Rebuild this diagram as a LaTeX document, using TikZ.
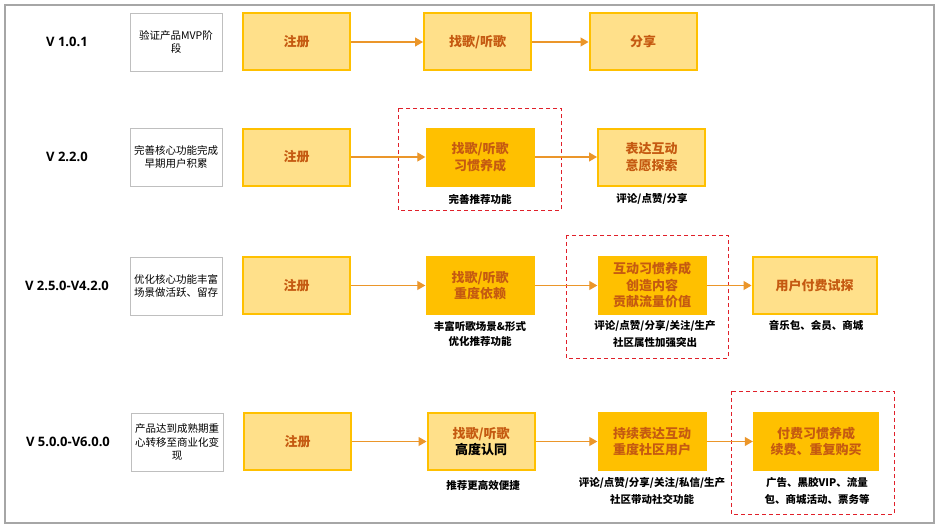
\documentclass[tikz,border=0pt]{standalone}
\usepackage{fontspec}
\setmainfont{Noto Sans CJK SC}
\newfontfamily\verfont{Open Sans}
\usetikzlibrary{arrows.meta}
\definecolor{lightfill}{HTML}{FFE08A}
\definecolor{darkfill}{HTML}{FFC000}
\definecolor{boxborder}{HTML}{FFC000}
\definecolor{labtext}{HTML}{C55A11}
\definecolor{arrcol}{HTML}{EB962A}
\definecolor{descborder}{HTML}{BFBFBF}
\definecolor{framecol}{HTML}{A6A6A6}
\definecolor{dashred}{HTML}{E0202A}
\tikzset{
  lbox/.style={draw=boxborder, line width=2pt, fill=lightfill, minimum width=107pt, minimum height=57pt, inner sep=0pt, align=center, text=labtext, font=\bfseries\fontsize{13}{16.5}\selectfont},
  dbox/.style={fill=darkfill, minimum width=109pt, minimum height=59pt, inner sep=0pt, align=center, text=labtext, font=\bfseries\fontsize{13}{16.5}\selectfont},
  descbox/.style={draw=descborder, line width=0.9pt, fill=white, minimum width=92pt, minimum height=58pt, inner sep=0pt, align=center, font=\fontsize{10.5}{13.5}\selectfont},
  verlab/.style={font=\verfont\bfseries\fontsize{13}{16}\selectfont, inner sep=0pt},
  subtext/.style={font=\bfseries\fontsize{10.5}{17}\selectfont, align=center, inner sep=0pt},
  flow/.style={draw=arrcol, line width=1.1pt, -{Triangle[length=8pt,width=9pt]}},
  dashframe/.style={draw=dashred, line width=1pt, dash pattern=on 4pt off 3pt}
}
\begin{document}
\begin{tikzpicture}[x=1pt,y=-1pt]
\useasboundingbox (0,0) rectangle (940,527);
\fill[white] (0,0) rectangle (940,527);
\draw[framecol, line width=2pt] (5,5) rectangle (934,523);

% dashed frames
\draw[dashframe] (398,108) rectangle (561,210);
\draw[dashframe] (566,235) rectangle (728,358);
\draw[dashframe] (731,391) rectangle (894,514);

% Row 1
\node[verlab] (v1) at (67,42) {V 1.0.1};
\node[descbox] (d1) at (176,42) {验证产品MVP阶\\段};
\node[lbox] (r1a) at (296.5,42) {注册};
\node[lbox] (r1b) at (477.5,42) {找歌/听歌};
\node[lbox] (r1c) at (643,42) {分享};
\draw[flow] (r1a.east) -- (r1b.west);
\draw[flow] (r1b.east) -- (r1c.west);

% Row 2
\node[verlab] (v2) at (67,157) {V 2.2.0};
\node[descbox] (d2) at (176,157) {完善核心功能完成\\早期用户积累};
\node[lbox] (r2a) at (296.5,157) {注册};
\node[dbox] (r2b) at (480,157) {找歌/听歌\\习惯养成};
\node[lbox] (r2c) at (651.5,157) {表达互动\\意愿探索};
\draw[flow] (r2a.east) -- (r2b.west);
\draw[flow] (r2b.east) -- (r2c.west);
\node[subtext] (s2b) at (480,199) {完善推荐功能};
\node[subtext] (s2c) at (652,199) {评论/点赞/分享};

% Row 3
\node[verlab] (v3) at (67,286) {V 2.5.0-V4.2.0};
\node[descbox] (d3) at (176,286) {优化核心功能丰富\\场景做活跃、留存};
\node[lbox] (r3a) at (296.5,285.5) {注册};
\node[dbox] (r3b) at (480,285.5) {找歌/听歌\\重度依赖};
\node[dbox] (r3c) at (652,285.5) {互动习惯养成\\创造内容\\贡献流量价值};
\node[lbox, minimum width=124pt] (r3d) at (814.5,285.5) {用户付费试探};
\draw[flow] (r3a.east) -- (r3b.west);
\draw[flow] (r3b.east) -- (r3c.west);
\draw[flow] (r3c.east) -- (r3d.west);
\node[subtext, font=\bfseries\fontsize{10.5}{15}\selectfont] (s3b) at (480,333.5) {丰富听歌场景\&形式\\优化推荐功能};
\node[subtext] (s3c) at (655,334) {评论/点赞/分享/关注/生产\\社区属性加强突出};
\node[subtext] (s3d) at (816,326) {音乐包、会员、商城};

% Row 4
\node[verlab] (v4) at (68,442) {V 5.0.0-V6.0.0};
\node[descbox] (d4) at (177,442) {产品达到成熟期重\\心转移至商业化变\\现};
\node[lbox] (r4a) at (297.5,441.5) {注册};
\node[lbox] (r4b) at (481,441.5) {找歌/听歌\\\textcolor{black}{高度认同}};
\node[dbox] (r4c) at (652,441.5) {持续表达互动\\重度社区用户};
\node[dbox, minimum width=126pt] (r4d) at (816,441.5) {付费习惯养成\\续费、重复购买};
\draw[flow] (r4a.east) -- (r4b.west);
\draw[flow] (r4b.east) -- (r4c.west);
\draw[flow] (r4c.east) -- (r4d.west);
\node[subtext] (s4b) at (483,485) {推荐更高效便捷};
\node[subtext] (s4c) at (652,490.5) {评论/点赞/分享/关注/私信/生产\\社区带动社交功能};
\node[subtext] (s4d) at (817,490.5) {广告、黑胶VIP、流量\\包、商城活动、票务等};
\end{tikzpicture}
\end{document}
